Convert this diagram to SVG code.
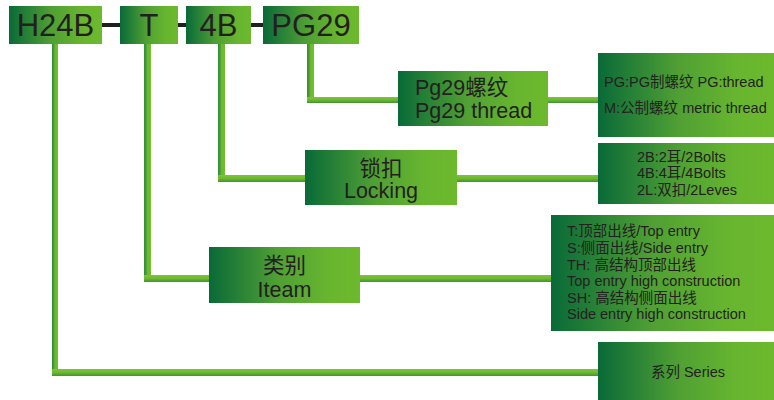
<svg xmlns="http://www.w3.org/2000/svg" width="774" height="400" viewBox="0 0 774 400">
  <defs>
    <linearGradient id="boxg" x1="0" y1="0" x2="1" y2="0">
      <stop offset="0" stop-color="#096a38"/>
      <stop offset="0.45" stop-color="#4f9f34"/>
      <stop offset="0.8" stop-color="#68b62f"/>
      <stop offset="1" stop-color="#6cb92d"/>
    </linearGradient>
    <linearGradient id="vg" x1="0" y1="0" x2="1" y2="0">
      <stop offset="0" stop-color="#2f8a3a"/>
      <stop offset="0.35" stop-color="#4ea235"/>
      <stop offset="0.5" stop-color="#6cb92d"/>
      <stop offset="1" stop-color="#72bd30"/>
    </linearGradient>
    <linearGradient id="hg" x1="0" y1="0" x2="0" y2="1">
      <stop offset="0" stop-color="#7ec43a"/>
      <stop offset="0.5" stop-color="#6cb92d"/>
      <stop offset="1" stop-color="#3f9238"/>
    </linearGradient>
    <style>
      .box { fill: url(#boxg); }
      .v { fill: url(#vg); }
      .h { fill: url(#hg); }
      .dash { fill: #231f20; }
      text { font-family: "Liberation Sans", "Noto Sans CJK SC", sans-serif; fill: #231f20; }
      .big { font-size: 31px; text-anchor: middle; }
      .mid { font-size: 21.5px; }
      .sm { font-size: 14.5px; }
      .c { text-anchor: middle; }
    </style>
  </defs>

  <g id="connectors">
    <rect class="dash" x="102" y="23" width="18" height="4"/>
    <rect class="dash" x="178" y="23" width="8" height="4"/>
    <rect class="dash" x="251" y="23" width="12" height="4"/>
    <rect class="v" x="307" y="44" width="7" height="59"/>
    <rect class="h" x="307" y="97" width="91" height="6"/>
    <rect class="h" x="548" y="97" width="50" height="6"/>
    <rect class="v" x="218" y="44" width="7" height="138"/>
    <rect class="h" x="218" y="175" width="87" height="7"/>
    <rect class="h" x="457" y="175" width="141" height="7"/>
    <rect class="v" x="144" y="44" width="7" height="238"/>
    <rect class="h" x="144" y="275" width="65" height="7"/>
    <rect class="h" x="360" y="275" width="191" height="7"/>
    <rect class="v" x="52" y="44" width="6" height="332"/>
    <rect class="h" x="52" y="369" width="546" height="7"/>
  </g>

  <g id="code-H24B">
    <rect class="box" x="9" y="6" width="93" height="38"/>
    <text class="big" x="55.5" y="36">H24B</text>
  </g>
  <g id="code-T">
    <rect class="box" x="120" y="6" width="58" height="38"/>
    <text class="big" x="149" y="36">T</text>
  </g>
  <g id="code-4B">
    <rect class="box" x="186" y="6" width="65" height="38"/>
    <text class="big" x="218.5" y="36">4B</text>
  </g>
  <g id="code-PG29">
    <rect class="box" x="263" y="6" width="96" height="38"/>
    <text class="big" x="311" y="36">PG29</text>
  </g>

  <g id="thread">
    <rect class="box" x="398" y="71" width="150" height="55"/>
    <text class="mid" x="415" y="95">Pg29螺纹</text>
    <text class="mid" x="415" y="118">Pg29 thread</text>
  </g>
  <g id="thread-detail">
    <rect class="box" x="598" y="53" width="176" height="84"/>
    <text class="sm" x="604" y="87">PG:PG制螺纹 PG:thread</text>
    <text class="sm" x="604" y="113">M:公制螺纹 metric thread</text>
  </g>

  <g id="locking">
    <rect class="box" x="305" y="150" width="152" height="55"/>
    <text class="mid c" x="381" y="176">锁扣</text>
    <text class="mid c" x="381" y="198">Locking</text>
  </g>
  <g id="locking-detail">
    <rect class="box" x="598" y="143" width="176" height="61"/>
    <text class="sm" x="637" y="162">2B:2耳/2Bolts</text>
    <text class="sm" x="637" y="178">4B:4耳/4Bolts</text>
    <text class="sm" x="637" y="195">2L:双扣/2Leves</text>
  </g>

  <g id="item">
    <rect class="box" x="209" y="247" width="151" height="56"/>
    <text class="mid c" x="284.5" y="273">类别</text>
    <text class="mid c" x="284.5" y="297">Iteam</text>
  </g>
  <g id="item-detail">
    <rect class="box" x="551" y="215" width="223" height="116"/>
    <text class="sm" x="567" y="236">T:顶部出线/Top entry</text>
    <text class="sm" x="567" y="253">S:侧面出线/Side entry</text>
    <text class="sm" x="567" y="270">TH: 高结构顶部出线</text>
    <text class="sm" x="567" y="286">Top entry high construction</text>
    <text class="sm" x="567" y="303">SH: 高结构侧面出线</text>
    <text class="sm" x="567" y="319">Side entry high construction</text>
  </g>

  <g id="series">
    <rect class="box" x="598" y="342" width="176" height="58"/>
    <text class="sm c" x="688" y="377">系列 Series</text>
  </g>
</svg>
